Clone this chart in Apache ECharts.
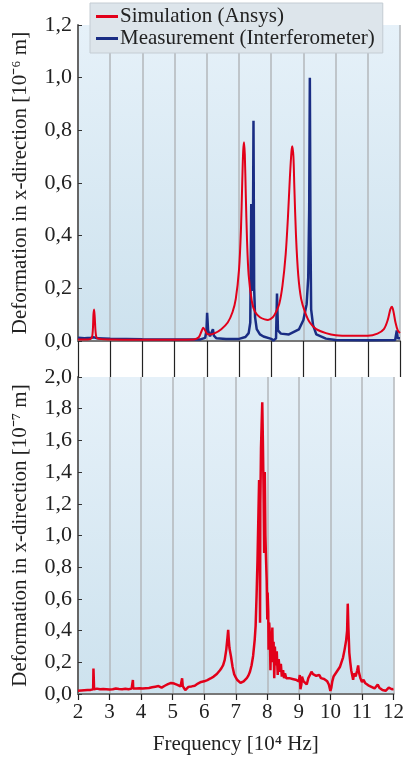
<!DOCTYPE html>
<html>
<head>
<meta charset="utf-8">
<script src="https://cdn.jsdelivr.net/npm/echarts@6/dist/echarts.min.js"></script>
<style>
  html, body { margin: 0; padding: 0; background: #fff; }
  #chart { width: 407px; height: 764px; }
</style>
</head>
<body>
<div id="chart"></div>
<script>
// top panel: [frequency 10^4 Hz, deformation 10^-6 m]
const simulation = [
  [2.0, 0.006], [2.3, 0.006], [2.42, 0.01], [2.46, 0.04], [2.48, 0.10], [2.50, 0.12],
  [2.52, 0.09], [2.55, 0.03], [2.6, 0.01], [3.0, 0.006], [4.0, 0.005], [5.0, 0.005],
  [5.6, 0.006], [5.75, 0.014], [5.83, 0.035], [5.89, 0.05], [5.95, 0.04], [6.0, 0.028],
  [6.1, 0.025], [6.25, 0.03], [6.45, 0.045], [6.65, 0.07], [6.8, 0.11], [6.9, 0.16],
  [7.0, 0.27], [7.06, 0.42], [7.1, 0.6], [7.13, 0.72], [7.155, 0.755], [7.18, 0.71],
  [7.21, 0.56], [7.25, 0.38], [7.3, 0.25], [7.4, 0.15], [7.5, 0.11], [7.65, 0.09],
  [7.8, 0.082], [7.9, 0.08], [8.05, 0.09], [8.15, 0.11], [8.25, 0.14], [8.35, 0.21],
  [8.45, 0.33], [8.52, 0.47], [8.58, 0.62], [8.63, 0.72], [8.655, 0.74], [8.69, 0.70],
  [8.72, 0.58], [8.77, 0.40], [8.84, 0.25], [8.93, 0.16], [9.05, 0.11], [9.2, 0.07],
  [9.4, 0.045], [9.7, 0.03], [10.0, 0.022], [10.5, 0.02], [11.0, 0.02], [11.3, 0.028],
  [11.5, 0.045], [11.62, 0.08], [11.7, 0.12], [11.75, 0.13], [11.8, 0.11], [11.86, 0.07],
  [11.93, 0.04], [12.0, 0.03]
];

const measurement = [
  [2.0, 0.012], [2.2, 0.01], [2.4, 0.012], [2.5, 0.014], [2.6, 0.01], [3.0, 0.009],
  [3.5, 0.008], [4.0, 0.007], [5.0, 0.006], [5.8, 0.006], [5.95, 0.012], [5.99, 0.04],
  [6.01, 0.107], [6.04, 0.04], [6.1, 0.018], [6.16, 0.022], [6.19, 0.045], [6.22, 0.02],
  [6.3, 0.01], [6.6, 0.008], [7.0, 0.008], [7.2, 0.015], [7.3, 0.03], [7.35, 0.07],
  [7.38, 0.52], [7.40, 0.19], [7.43, 0.3], [7.45, 0.836], [7.47, 0.2], [7.5, 0.09],
  [7.55, 0.045], [7.65, 0.025], [7.76, 0.017], [8.0, 0.008], [8.07, 0.002], [8.15, 0.01],
  [8.18, 0.18], [8.21, 0.04], [8.3, 0.028], [8.55, 0.025], [8.86, 0.044], [9.0, 0.08],
  [9.1, 0.14], [9.15, 0.24], [9.18, 0.5], [9.2, 1.0], [9.22, 0.4], [9.24, 0.12],
  [9.3, 0.06], [9.4, 0.025], [9.7, 0.009], [10.0, 0.004], [11.0, 0.003], [11.85, 0.004],
  [11.9, 0.04], [11.93, 0.01], [12.0, 0.01]
];

// bottom panel: [frequency 10^4 Hz, deformation 10^-7 m]
const measurementLower = [
  [2.00, 0.020], [2.05, 0.028], [2.10, 0.022], [2.15, 0.030], [2.20, 0.024], [2.25, 0.032],
  [2.30, 0.025], [2.35, 0.030], [2.40, 0.026], [2.45, 0.033], [2.48, 0.030], [2.49, 0.160],
  [2.50, 0.150], [2.51, 0.030], [2.55, 0.028], [2.60, 0.034], [2.65, 0.024], [2.70, 0.030],
  [2.75, 0.026], [2.80, 0.032], [2.85, 0.022], [2.90, 0.030], [2.95, 0.025], [3.00, 0.028],
  [3.05, 0.022], [3.10, 0.030], [3.15, 0.026], [3.20, 0.035], [3.25, 0.028], [3.30, 0.032],
  [3.35, 0.024], [3.40, 0.030], [3.45, 0.026], [3.50, 0.033], [3.55, 0.025], [3.60, 0.030],
  [3.65, 0.028], [3.70, 0.034], [3.73, 0.030], [3.74, 0.088], [3.75, 0.035], [3.80, 0.028],
  [3.85, 0.034], [3.90, 0.030], [3.95, 0.036], [4.00, 0.030], [4.05, 0.034], [4.10, 0.030],
  [4.15, 0.036], [4.20, 0.032], [4.25, 0.038], [4.30, 0.034], [4.35, 0.042], [4.40, 0.040],
  [4.45, 0.046], [4.50, 0.044], [4.55, 0.050], [4.60, 0.046], [4.65, 0.040], [4.70, 0.044],
  [4.75, 0.052], [4.80, 0.056], [4.85, 0.062], [4.90, 0.066], [4.95, 0.070], [5.00, 0.072],
  [5.05, 0.066], [5.10, 0.062], [5.15, 0.058], [5.20, 0.054], [5.25, 0.048], [5.28, 0.060],
  [5.30, 0.099], [5.32, 0.050], [5.35, 0.040], [5.40, 0.025], [5.45, 0.035], [5.50, 0.045],
  [5.55, 0.050], [5.60, 0.048], [5.65, 0.056], [5.70, 0.052], [5.75, 0.058], [5.80, 0.066],
  [5.85, 0.070], [5.90, 0.076], [5.95, 0.082], [6.00, 0.080], [6.05, 0.086], [6.10, 0.088],
  [6.15, 0.092], [6.20, 0.098], [6.25, 0.104], [6.30, 0.110], [6.35, 0.118], [6.40, 0.126],
  [6.45, 0.136], [6.50, 0.150], [6.55, 0.164], [6.60, 0.182], [6.65, 0.215], [6.70, 0.280],
  [6.74, 0.360], [6.76, 0.405], [6.78, 0.340], [6.80, 0.290], [6.85, 0.235], [6.90, 0.170],
  [6.95, 0.125], [7.00, 0.105], [7.05, 0.088], [7.10, 0.076], [7.15, 0.070], [7.20, 0.074],
  [7.25, 0.080], [7.30, 0.090], [7.35, 0.100], [7.40, 0.116], [7.45, 0.140], [7.50, 0.180],
  [7.55, 0.240], [7.60, 0.340], [7.63, 0.430], [7.66, 0.620], [7.69, 0.850], [7.72, 1.150],
  [7.74, 1.350], [7.76, 0.800], [7.77, 0.450], [7.78, 1.200], [7.80, 1.550], [7.82, 1.700],
  [7.84, 1.840], [7.86, 1.600], [7.88, 1.300], [7.90, 0.890], [7.91, 1.100], [7.92, 1.400],
  [7.94, 1.000], [7.96, 0.850], [7.98, 0.720], [8.00, 0.470], [8.01, 0.640], [8.03, 0.520],
  [8.04, 0.280], [8.06, 0.450], [8.08, 0.380], [8.10, 0.150], [8.12, 0.380], [8.14, 0.300],
  [8.16, 0.420], [8.18, 0.200], [8.20, 0.330], [8.22, 0.100], [8.24, 0.300], [8.27, 0.180],
  [8.30, 0.270], [8.33, 0.120], [8.36, 0.220], [8.40, 0.140], [8.43, 0.190], [8.46, 0.110],
  [8.50, 0.150], [8.53, 0.100], [8.56, 0.130], [8.60, 0.100], [8.65, 0.110], [8.70, 0.100],
  [8.75, 0.105], [8.80, 0.095], [8.85, 0.100], [8.90, 0.090], [8.95, 0.095], [9.00, 0.080],
  [9.03, 0.120], [9.05, 0.030], [9.08, 0.060], [9.10, 0.110], [9.15, 0.080], [9.20, 0.070],
  [9.25, 0.060], [9.30, 0.100], [9.35, 0.120], [9.40, 0.140], [9.45, 0.125], [9.50, 0.130],
  [9.55, 0.115], [9.60, 0.110], [9.65, 0.120], [9.70, 0.100], [9.75, 0.105], [9.80, 0.095],
  [9.85, 0.090], [9.90, 0.080], [9.95, 0.060], [10.00, 0.020], [10.03, 0.040], [10.06, 0.080],
  [10.10, 0.110], [10.15, 0.120], [10.20, 0.140], [10.25, 0.150], [10.30, 0.170], [10.35, 0.200],
  [10.40, 0.230], [10.45, 0.280], [10.50, 0.340], [10.53, 0.400], [10.55, 0.570], [10.57, 0.420],
  [10.60, 0.260], [10.63, 0.200], [10.66, 0.150], [10.70, 0.110], [10.72, 0.090], [10.75, 0.130],
  [10.80, 0.110], [10.85, 0.150], [10.88, 0.180], [10.90, 0.140], [10.95, 0.100], [11.00, 0.075],
  [11.05, 0.090], [11.10, 0.070], [11.15, 0.060], [11.20, 0.055], [11.25, 0.050], [11.30, 0.045],
  [11.35, 0.040], [11.40, 0.035], [11.45, 0.030], [11.50, 0.060], [11.55, 0.040], [11.60, 0.030],
  [11.65, 0.025], [11.70, 0.022], [11.75, 0.020], [11.80, 0.030], [11.85, 0.040], [11.90, 0.028],
  [11.95, 0.030], [12.00, 0.032]
];

const seriesNames = ["Simulation (Ansys)", "Measurement (Interferometer)"];
const topTicks = [0, 1.2, 0.2];
const bottomTicks = [0, 2.0, 0.2];

const RED = "#e2001a";
const BLUE = "#1a2d84";
const FONT = "Liberation Serif";

const plotBg = {
  type: "linear", x: 0, y: 0, x2: 0, y2: 1,
  colorStops: [
    { offset: 0, color: "#e6f1f9" },
    { offset: 1, color: "#cde2ee" },
  ],
};

const commaFmt = (v) => v.toFixed(1).replace(".", ",");

function yAxisCfg(gridIndex, ticks, name) {
  return {
    type: "value",
    gridIndex: gridIndex,
    min: ticks[0],
    max: ticks[1],
    interval: ticks[2],
    name: name,
    nameLocation: "middle",
    nameRotate: 90,
    nameGap: 47,
    nameTextStyle: { fontFamily: FONT, fontSize: 21, color: "#222" },
    axisLine: { show: true, lineStyle: { color: "#666", width: 2 } },
    axisTick: { show: true, inside: true, length: 4, lineStyle: { color: "#333", width: 1 } },
    axisLabel: {
      fontFamily: FONT, fontSize: 22, color: "#222", margin: 6,
      formatter: commaFmt,
    },
    splitLine: { show: false },
  };
}

function xAxisCfg(gridIndex, showLabels, tickLen) {
  return {
    type: "value",
    gridIndex: gridIndex,
    min: 2,
    max: 12,
    interval: 1,
    name: showLabels ? "Frequency [10\u2074 Hz]" : "",
    nameLocation: "middle",
    nameGap: 40,
    nameTextStyle: { fontFamily: FONT, fontSize: 21, color: "#222" },
    axisLine: { show: true, onZero: false, lineStyle: { color: "#777", width: 2 } },
    axisTick: { show: true, length: tickLen, lineStyle: { color: "#222", width: 1.2 } },
    axisLabel: {
      show: showLabels, fontFamily: FONT, fontSize: 21, color: "#222", margin: 8,
    },
    splitLine: { show: true, lineStyle: { color: "#b3b7bb", width: 1.5 } },
  };
}

const chart = echarts.init(document.getElementById("chart"));
chart.setOption({
  animation: false,
  backgroundColor: "#ffffff",
  grid: [
    { left: 78, right: 7, top: 25, height: 316, show: true, backgroundColor: plotBg, borderWidth: 0 },
    { left: 78, right: 7, top: 377, height: 317, show: true, backgroundColor: plotBg, borderWidth: 0 },
  ],
  legend: {
    data: seriesNames.map((n) => ({ name: n })),
    orient: "vertical",
    left: 90,
    top: 3,
    padding: [3, 8, 4, 6],
    itemGap: 1,
    itemWidth: 22,
    itemHeight: 3,
    icon: "rect",
    backgroundColor: "#dde5eb",
    borderColor: "#c4ccd3",
    borderWidth: 1,
    textStyle: { fontFamily: FONT, fontSize: 21, color: "#222", padding: [0, 0, 0, -3] },
  },
  xAxis: [xAxisCfg(0, false, 36), xAxisCfg(1, true, 6)],
  yAxis: [
    yAxisCfg(0, topTicks, "Deformation in x-direction [10\u207B\u2076 m]"),
    yAxisCfg(1, bottomTicks, "Deformation in x-direction [10\u207B\u2077 m]"),
  ],
  series: [
    {
      name: seriesNames[1],
      type: "line",
      xAxisIndex: 0,
      yAxisIndex: 0,
      data: measurement,
      showSymbol: false,
      color: BLUE,
      lineStyle: { color: BLUE, width: 2.5 },
      z: 2,
    },
    {
      name: seriesNames[0],
      type: "line",
      xAxisIndex: 0,
      yAxisIndex: 0,
      data: simulation,
      smooth: 0.3,
      showSymbol: false,
      color: RED,
      lineStyle: { color: RED, width: 2 },
      z: 3,
    },
    {
      name: "lower",
      type: "line",
      xAxisIndex: 1,
      yAxisIndex: 1,
      data: measurementLower,
      showSymbol: false,
      color: RED,
      lineStyle: { color: RED, width: 2.5 },
    },
  ],
});
</script>
</body>
</html>
